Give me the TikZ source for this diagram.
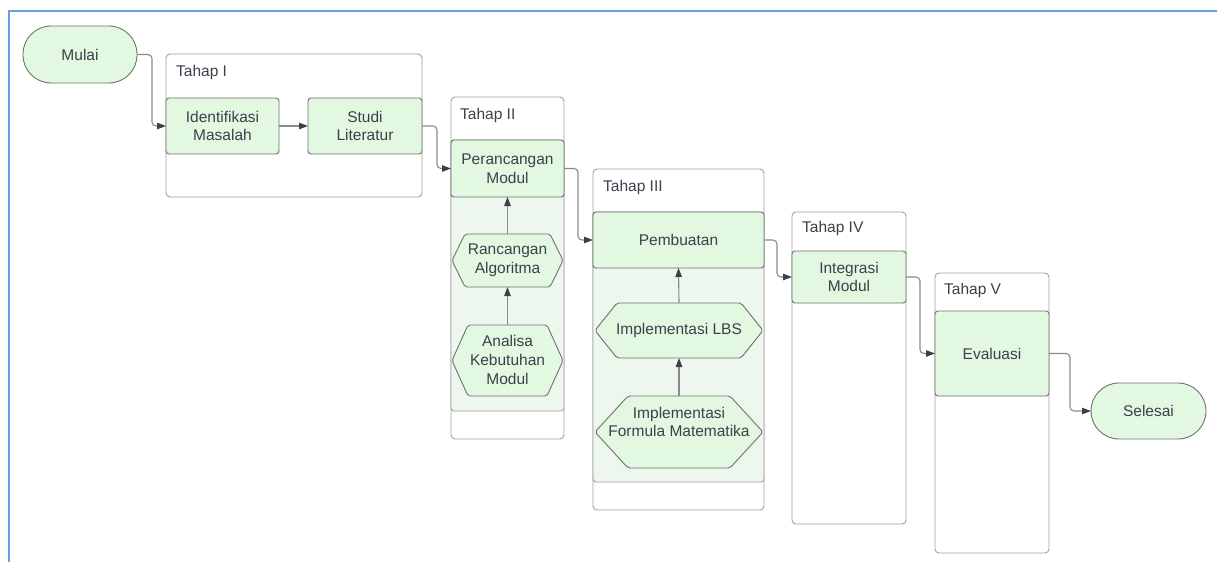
\documentclass[tikz,border=0pt]{standalone}
\usepackage{fontspec}
\setmainfont{Liberation Sans}
\usetikzlibrary{arrows.meta}
\definecolor{txtc}{HTML}{3A414A}
\definecolor{boxfill}{HTML}{E3F8E1}
\definecolor{lanefill}{HTML}{EEF7EE}
\definecolor{boxline}{HTML}{707070}
\definecolor{contline}{HTML}{A0A0A0}
\definecolor{connc}{HTML}{8A8A8A}
\definecolor{framec}{HTML}{64A0E1}
\newcommand\hexshape[5]{%
  \filldraw[hexstyle] (#1,{(#2+#4)/2}) -- ({#1+#5},#2) -- ({#3-#5},#2) -- (#3,{(#2+#4)/2}) -- ({#3-#5},#4) -- ({#1+#5},#4) -- cycle;}
\tikzset{
  every node/.style={font=\fontsize{15.5}{18.6}\selectfont, text=txtc},
  container/.style={draw=contline, line width=0.9pt, fill=white, rounded corners=4pt, inner sep=0pt, outer sep=0pt},
  lane/.style={draw=contline, line width=0.9pt, fill=lanefill, rounded corners=3pt},
  proc/.style={draw=boxline, line width=0.9pt, fill=boxfill, rounded corners=3pt, inner sep=0pt, outer sep=0pt, align=center},
  term/.style={draw=boxline, line width=0.9pt, fill=boxfill, rounded corners=28pt, inner sep=0pt, outer sep=0pt, align=center},
  hexstyle/.style={draw=boxline, line width=0.9pt, fill=boxfill, rounded corners=2pt},
  hextxt/.style={inner sep=0pt, outer sep=0pt, align=center},
  title/.style={anchor=west, inner sep=0pt},
  conn/.style={draw=connc, line width=1.1pt, rounded corners=4pt, -{Triangle[length=9pt, width=6.5pt, color=txtc]}},
}
\begin{document}
\begin{tikzpicture}[x=1pt, y=-1pt]
\useasboundingbox (0,0) rectangle (1217,562);
% frame
\draw[framec, line width=2pt] (9,562) -- (9,11) -- (1217,11);

% containers
\node[container, minimum width=256, minimum height=143] (c1) at (294,125.5) {};
\node[container, minimum width=113, minimum height=342] (c2) at (507.5,268) {};
\node[container, minimum width=171, minimum height=341] (c3) at (678.5,339.5) {};
\node[container, minimum width=114, minimum height=312] (c4) at (849,368) {};
\node[container, minimum width=114, minimum height=280] (c5) at (992,413) {};

\node[title] (t1) at (176,72) {Tahap I};
\node[title] (t2) at (460,115) {Tahap II};
\node[title] (t3) at (603,187) {Tahap III};
\node[title] (t4) at (802,228) {Tahap IV};
\node[title] (t5) at (944,290) {Tahap V};

% lanes
\draw[lane] (c2.west |- 0,140) rectangle (c2.east |- 0,411);
\draw[lane] (c3.west |- 0,212) rectangle (c3.east |- 0,482);

% terminals and process boxes
\node[term, minimum width=114, minimum height=57] (mulai) at (80,54.5) {Mulai};
\node[term, minimum width=115, minimum height=56] (selesai) at (1148.5,411) {Selesai};

\node[proc, minimum width=113, minimum height=56] (ident) at (222.5,126) {Identifikasi\\Masalah};
\node[proc, minimum width=114, minimum height=56] (studi) at (365,126) {Studi\\Literatur};
\node[proc, minimum width=113, minimum height=57] (peran) at (507.5,168.5) {Perancangan\\Modul};
\node[proc, minimum width=171, minimum height=56] (pemb) at (678.5,240) {Pembuatan};
\node[proc, minimum width=114, minimum height=52] (integ) at (849,277) {Integrasi\\Modul};
\node[proc, minimum width=114, minimum height=85] (eval) at (992,353.5) {Evaluasi};

% hexagons
\hexshape{452}{234}{563}{287}{13}
\hexshape{452}{325}{563}{396}{16}
\hexshape{595}{303}{763}{358}{22}
\hexshape{595}{396}{763}{468}{33}
\node[hextxt, minimum width=111, minimum height=53] (ra) at (507.5,260.5) {Rancangan\\Algoritma};
\node[hextxt, minimum width=111, minimum height=71] (akm) at (507.5,360) {Analisa\\Kebutuhan\\Modul};
\node[hextxt, minimum width=168, minimum height=55] (lbs) at (679,330.5) {Implementasi LBS};
\node[hextxt, minimum width=168, minimum height=52] (ifm) at (679,422) {Implementasi\\Formula Matematika};

% connectors
\draw[conn] (mulai.east) -- ++(15,0) |- (ident.west);
\draw[conn] (ident.east) -- (studi.west);
\draw[conn] (studi.east) -- ++(15,0) |- (peran.west);
\draw[conn] (peran.east) -- ++(14,0) |- (pemb.west);
\draw[conn] (pemb.east) -- ++(13,0) |- (integ.west);
\draw[conn] (integ.east) -- ++(14,0) |- (eval.west);
\draw[conn] (eval.east) -- ++(21,0) |- (selesai.west);
\draw[conn] (akm.north) -- (ra.south);
\draw[conn] (ra.north) -- (peran.south);
\draw[conn] (ifm.north) -- (lbs.south);
\draw[conn] (lbs.north) -- (pemb.south);
\end{tikzpicture}
\end{document}
